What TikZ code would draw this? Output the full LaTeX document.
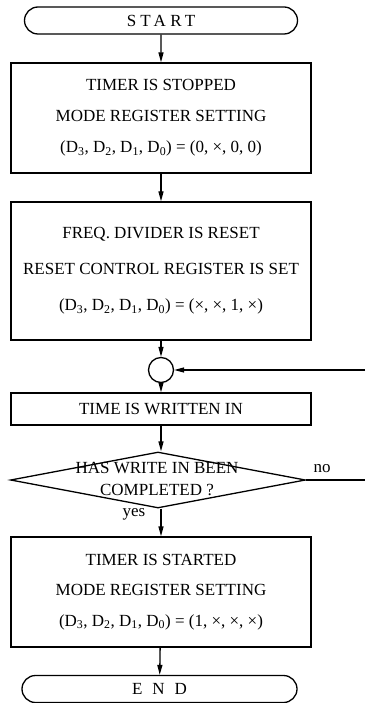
\documentclass[tikz,border=0pt]{standalone}
\usepackage{fontspec}
\setmainfont{Liberation Serif}
\usetikzlibrary{shapes.geometric,shapes.misc,arrows.meta}

\newcommand{\regs}{(D\textsubscript{3}, D\textsubscript{2}, D\textsubscript{1}, D\textsubscript{0})}

\begin{document}
\begin{tikzpicture}[x=1pt, y=-1pt, line width=1.3pt,
    every node/.style={font=\fontsize{17}{31}\selectfont},
    term/.style={rounded rectangle, draw, minimum height=27pt, inner sep=0pt},
    proc/.style={rectangle, draw, minimum width=300pt, align=center, inner sep=0pt},
    flow/.style={-{Triangle[length=10pt,width=5pt]}}]

    \useasboundingbox (0,0) rectangle (365,703);

    % Anfang
    \node[term, minimum width=273pt] (start) at (161,20.5)
        {\addfontfeature{LetterSpace=25}START};

    % Zeitgeber anhalten
    \node[proc, minimum height=110pt] (stop) at (161,118)
        {TIMER IS STOPPED\\MODE REGISTER SETTING\\\regs{} = (0, ×, 0, 0)};

    % Teiler zuruecksetzen
    \node[proc, minimum height=138pt, font=\fontsize{17}{36}\selectfont] (reset) at (161,271)
        {FREQ. DIVIDER IS RESET\\RESET CONTROL REGISTER IS SET\\\regs{} = (×, ×, 1, ×)};

    % Sammelpunkt
    \node[circle, draw, minimum size=25pt, inner sep=0pt] (join) at (161,370) {};
    \coordinate (back) at (365,370);

    % Zeit schreiben
    \node[proc, minimum height=32pt] (write) at (161,409) {TIME IS WRITTEN IN};

    % Abfrage
    \node[diamond, draw, minimum width=295pt, minimum height=56pt, inner sep=0pt] (done) at (158,480) {};
    \node[align=center, font=\fontsize{17}{22}\selectfont] (donetext) at (157,479)
        {HAS WRITE IN BEEN\\COMPLETED ?};
    \coordinate (noend) at (365,480);
    \node (no) at (322,469) {no};
    \node (yes) at (134,514) {yes};

    % Zeitgeber starten
    \node[proc, minimum height=110pt, font=\fontsize{17}{30.5}\selectfont] (run) at (161,592)
        {TIMER IS STARTED\\MODE REGISTER SETTING\\\regs{} = (1, ×, ×, ×)};

    % Ende
    \node[term, minimum width=275pt] (end) at (159.5,689)
        {E\hspace{10pt}N\hspace{10pt}D};

    % Verbindungen
    \draw[flow] (start) -- (stop);
    \draw[flow] (stop) -- (reset);
    \draw[flow] (reset) -- (join);
    \draw[flow] (back) -- (join);
    \draw[flow] (join) -- (write);
    \draw[flow] (write.south) -- (write.south |- done.north);
    \draw (done) -- (noend);
    \draw[flow] (write.south |- done.south) -- (run.north);
    \draw[flow] (run) -- (end);
\end{tikzpicture}
\end{document}
